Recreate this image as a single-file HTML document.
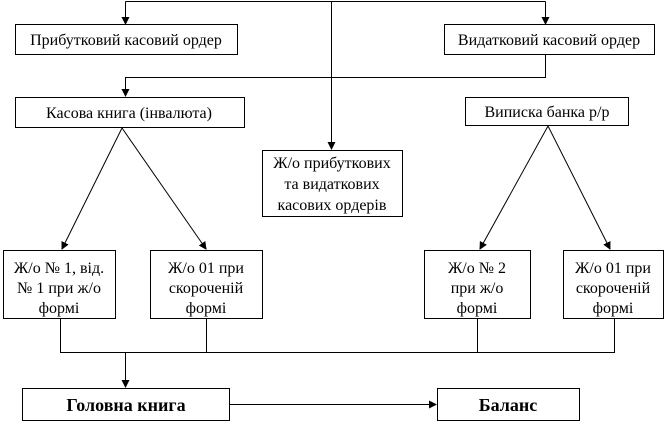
<!DOCTYPE html>
<html><head><meta charset="utf-8"><style>
body{margin:0;background:#fff}
svg text{font-family:"Liberation Serif",serif;font-size:16px;fill:#000}
</style></head><body>
<svg width="666" height="424" viewBox="0 0 666 424" xmlns="http://www.w3.org/2000/svg">
<defs><marker id="a" markerWidth="8" markerHeight="8" refX="7" refY="4" orient="auto" markerUnits="userSpaceOnUse"><path d="M0,0 L8,4 L0,8 z" fill="#000"/></marker></defs>
<g stroke="#000" stroke-width="1" fill="none">
<path d="M125.5,1.5 H545.5"/>
<path d="M125.5,1.5 V24" marker-end="url(#a)"/>
<path d="M545.5,1.5 V24" marker-end="url(#a)"/>
<path d="M331.5,1.5 V149" marker-end="url(#a)"/>
<path d="M545.5,54 V77.5 H125.5 V96" marker-end="url(#a)"/>
<rect x="15.5" y="24.5" width="222" height="30" fill="#fff"/>
<rect x="444.5" y="24.5" width="210" height="30" fill="#fff"/>
<rect x="15.5" y="97.5" width="229" height="30" fill="#fff"/>
<rect x="465.5" y="97.5" width="163" height="28"/>
<rect x="262.5" y="150.5" width="140" height="66"/>
<path d="M122,128 L62,249" marker-end="url(#a)"/>
<path d="M122,128 L206,249" marker-end="url(#a)"/>
<path d="M548,126 L480,249" marker-end="url(#a)"/>
<path d="M548,126 L610,249" marker-end="url(#a)"/>
<rect x="3.5" y="250.5" width="112" height="68"/>
<rect x="150.5" y="250.5" width="112" height="68"/>
<rect x="424.5" y="250.5" width="106" height="68"/>
<rect x="563.5" y="250.5" width="100" height="68"/>
<path d="M60.5,319 V352.5 H614.5 V319 M206.5,319 V352.5 M477.5,319 V352.5"/>
<path d="M125.5,352.5 V387" marker-end="url(#a)"/>
<rect x="22.5" y="388.5" width="207" height="32"/>
<rect x="437.5" y="388.5" width="142" height="32"/>
<path d="M230,404.5 H436" marker-end="url(#a)"/>
</g>
<g text-anchor="middle">
<text x="126" y="45">Прибутковий касовий ордер</text>
<text x="549" y="45">Видатковий касовий ордер</text>
<text x="129" y="118">Касова книга (інвалюта)</text>
<text x="547" y="117">Виписка банка р/р</text>
<text x="332" y="168">Ж/о прибуткових</text>
<text x="332" y="189">та видаткових</text>
<text x="332" y="210">касових ордерів</text>
<text x="59" y="273">Ж/о № 1, від.</text>
<text x="59" y="293">№ 1 при ж/о</text>
<text x="59" y="313">формі</text>
<text x="206" y="273">Ж/о 01 при</text>
<text x="206" y="293">скороченій</text>
<text x="206" y="313">формі</text>
<text x="477" y="273">Ж/о № 2</text>
<text x="477" y="293">при ж/о</text>
<text x="477" y="313">формі</text>
<text x="613" y="273">Ж/о 01 при</text>
<text x="613" y="293">скороченій</text>
<text x="613" y="313">формі</text>
<text x="126" y="411" style="font-weight:bold;font-size:18px">Головна книга</text>
<text x="508" y="411" style="font-weight:bold;font-size:18px">Баланс</text>
</g>
</svg>
</body></html>
